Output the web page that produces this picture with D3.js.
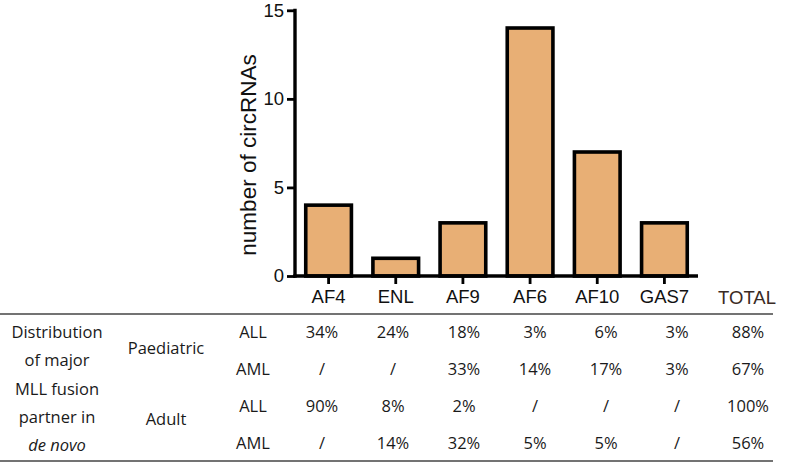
<!DOCTYPE html>
<html>
<head>
<meta charset="utf-8">
<script src="https://cdn.jsdelivr.net/npm/d3@7"></script>
<style>
  html, body { margin: 0; padding: 0; background: #fff; }
  svg { display: block; }
</style>
</head>
<body>
<svg id="chart" width="787" height="464"></svg>
<script>
// ---- data ----
const categories = ["AF4", "ENL", "AF9", "AF6", "AF10", "GAS7"];
const circCounts = [4, 1, 3, 14, 7, 3];
const yTicks = [0, 5, 10, 15];
const totalLabel = "TOTAL";

const rowLabelLines = ["Distribution", "of major", "MLL fusion", "partner in", "de novo"];
const ageGroups = ["Paediatric", "Adult"];
const subtypes = ["ALL", "AML", "ALL", "AML"];
const paedALL = ["34%", "24%", "18%", "3%", "6%", "3%", "88%"];
const paedAML = ["/", "/", "33%", "14%", "17%", "3%", "67%"];
const adultALL = ["90%", "8%", "2%", "/", "/", "/", "100%"];
const adultAML = ["/", "14%", "32%", "5%", "5%", "/", "56%"];
const tableRows = [paedALL, paedAML, adultALL, adultAML];

// ---- chart ----
const svg = d3.select("#chart");
const axisFont = "'Liberation Sans', Arial, Helvetica, sans-serif";
const tableFont = "'Open Sans', 'Noto Sans', sans-serif";

const x = d3.scaleBand().domain(categories).range([295, 698])
  .paddingInner(0.32).paddingOuter(0.16);
const y = d3.scaleLinear().domain([0, 15]).range([276, 10.3]);

// bars
svg.append("g").selectAll("rect").data(categories).join("rect")
  .attr("x", d => x(d))
  .attr("width", x.bandwidth())
  .attr("y", (d, i) => y(circCounts[i]))
  .attr("height", (d, i) => y(0) - y(circCounts[i]))
  .attr("fill", "#E8AF75")
  .attr("stroke", "#000")
  .attr("stroke-width", 3.6);

// y axis
const yAxis = svg.append("g").attr("transform", "translate(295,0)")
  .call(d3.axisLeft(y).tickValues(yTicks).tickSize(8).tickPadding(3).tickFormat(d3.format("d")));
yAxis.select(".domain").attr("stroke", "#000").attr("stroke-width", 3.4).attr("d", `M0,${y(0)+1.7}V${y(15)-1.5}`);
yAxis.selectAll(".tick line").attr("stroke", "#000").attr("stroke-width", 2.8);
yAxis.selectAll(".tick text").attr("font-family", axisFont).attr("font-size", 18.5).attr("fill", "#111");

// x axis
const xAxis = svg.append("g").attr("transform", `translate(0,${y(0)})`)
  .call(d3.axisBottom(x).tickSize(8).tickPadding(6));
xAxis.select(".domain").attr("stroke", "#000").attr("stroke-width", 3.4).attr("d", "M293.3,0H698");
xAxis.selectAll(".tick line").attr("stroke", "#000").attr("stroke-width", 2.8);
xAxis.selectAll(".tick text").attr("font-family", axisFont).attr("font-size", 18.5).attr("fill", "#111");

// TOTAL header
svg.append("text").attr("x", 747).attr("y", 303.5).attr("text-anchor", "middle")
  .attr("font-family", axisFont).attr("font-size", 18.5).attr("fill", "#3a2a24")
  .text(totalLabel);

// y label
svg.append("text").attr("transform", "translate(256,155) rotate(-90)")
  .attr("text-anchor", "middle").attr("font-family", axisFont).attr("font-size", 22.5).attr("fill", "#111")
  .text("number of circRNAs");

// ---- table ----
const colX = d3.scalePoint().domain([...categories, totalLabel]).range([322, 748]);
const rowY = d3.scaleLinear().domain([0, 3]).range([338, 449]);

svg.append("line").attr("x1", 0).attr("x2", 773).attr("y1", 314).attr("y2", 314)
  .attr("stroke", "#444").attr("stroke-width", 1.6);
svg.append("line").attr("x1", 0).attr("x2", 773).attr("y1", 461).attr("y2", 461)
  .attr("stroke", "#444").attr("stroke-width", 1.6);

const tg = svg.append("g").attr("font-family", tableFont).attr("font-size", 16.5)
  .attr("fill", "#1a1a1a").attr("text-anchor", "middle");

const labelY = d3.scaleLinear().domain([0, 4]).range([338, 451]);
tg.selectAll("text.rl").data(rowLabelLines).join("text").attr("class", "rl")
  .attr("x", 57).attr("y", (d, i) => labelY(i))
  .attr("font-style", (d, i) => i === 4 ? "italic" : "normal")
  .text(d => d);

tg.selectAll("text.ag").data(ageGroups).join("text").attr("class", "ag")
  .attr("x", 166).attr("y", (d, i) => i === 0 ? 354 : 425)
  .text(d => d);

tg.selectAll("text.st").data(subtypes).join("text").attr("class", "st")
  .attr("x", 253).attr("y", (d, i) => rowY(i))
  .text(d => d);

tableRows.forEach((row, r) => {
  tg.append("g").selectAll("text").data(row).join("text")
    .attr("x", (d, i) => colX(i < categories.length ? categories[i] : totalLabel))
    .attr("y", rowY(r))
    .text(d => d);
});
</script>
</body>
</html>
